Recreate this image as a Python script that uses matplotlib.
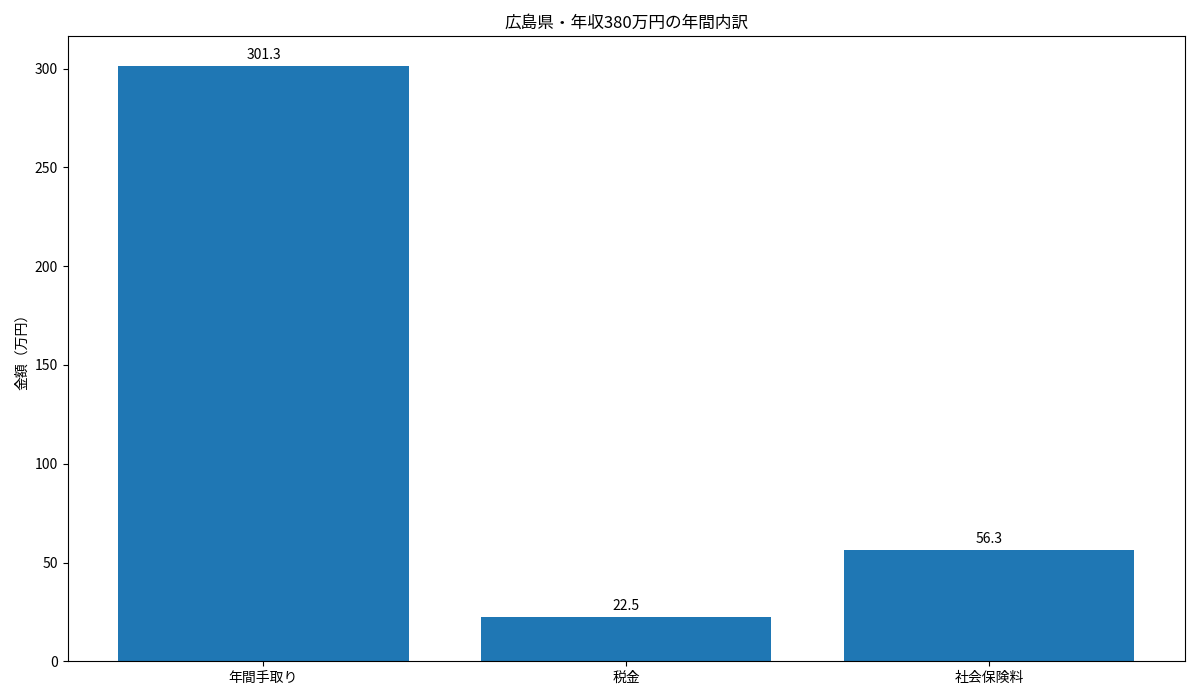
import matplotlib
matplotlib.use('Agg')
import matplotlib.pyplot as plt

plt.rcParams['font.family'] = ['Noto Sans CJK JP', 'DejaVu Sans']

categories = ['年間手取り', '税金', '社会保険料']
values = [301.3, 22.5, 56.3]

fig, ax = plt.subplots(figsize=(12, 7), dpi=100)
bars = ax.bar(categories, values, color='#1f77b4')
ax.bar_label(bars, labels=[f'{v:.1f}' for v in values], padding=3)
ax.set_ylabel('金額（万円）')
ax.set_title('広島県・年収380万円の年間内訳')

plt.tight_layout()
plt.savefig('out.png')
